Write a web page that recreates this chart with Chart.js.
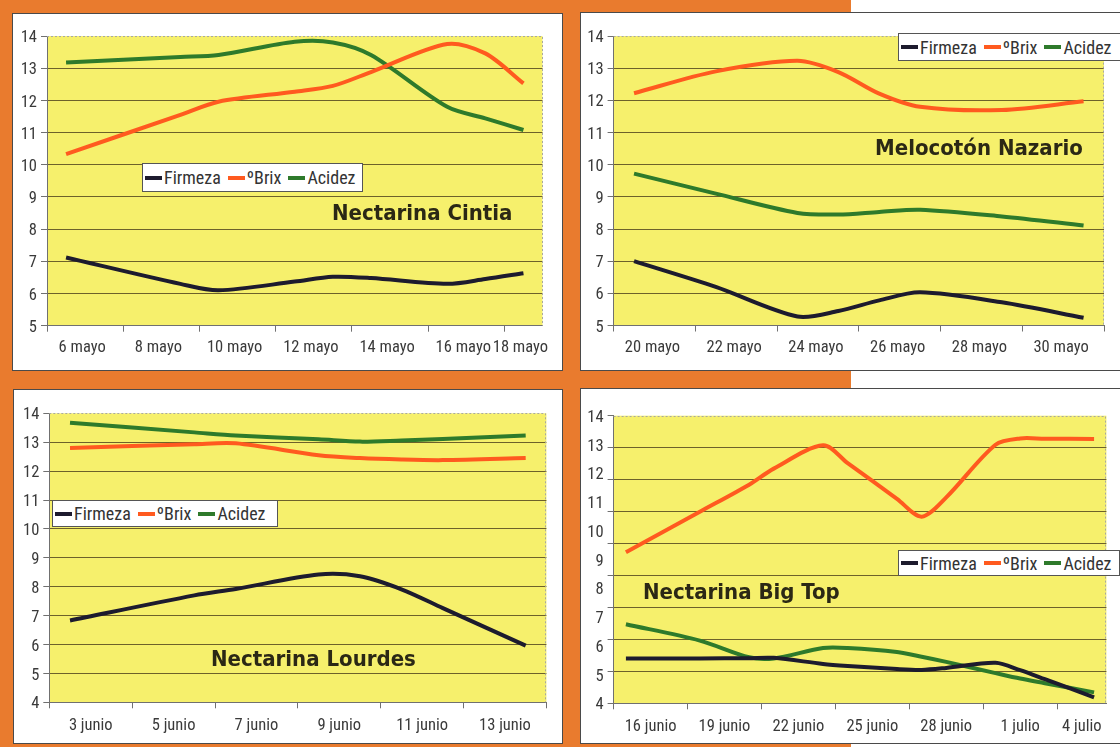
<!DOCTYPE html>
<html>
<head>
<meta charset="utf-8">
<title>Firmeza, ºBrix y Acidez</title>
<script src="https://cdn.jsdelivr.net/npm/chart.js@4.4.1/dist/chart.umd.min.js"></script>
<style>
  html, body { margin: 0; padding: 0; background: #fff; }
  #page { position: relative; width: 1120px; height: 747px; overflow: hidden; background: #fff; }
  #fondo { position: absolute; left: 0; top: 0; width: 851px; height: 747px; background: #E97B2E; }
  .panel { position: absolute; background: #fff; border: 1px solid #4a4a4a; box-sizing: border-box; }
  canvas { position: absolute; }
  .titulo {
    position: absolute; white-space: nowrap;
    font-family: 'DejaVu Sans Condensed', 'DejaVu Sans', sans-serif;
    font-stretch: condensed; font-weight: bold; font-size: 22px; line-height: 22px;
    color: #2b2815;
  }
  .leyenda {
    position: absolute; box-sizing: border-box; background: #fff;
    border: 1px solid #555; display: flex; align-items: center; padding-left: 2px;
    font-family: 'Roboto Condensed', 'DejaVu Sans Condensed', sans-serif;
    font-size: 18px; color: #333; white-space: nowrap;
  }
  .leyenda .item { display: flex; align-items: center; margin-right: 7px; }
  .leyenda .sw { display: inline-block; width: 17px; height: 4px; margin-right: 2px; }
</style>
</head>
<body>
<div id="page">
  <div id="fondo"></div>
</div>
<script>
// Series names and colours
const serieNombres = ['Firmeza', 'ºBrix', 'Acidez'];
const serieColores = ['#1d1b2e', '#ff5a1f', '#2e7a2b'];

// ---- Nectarina Cintia (days of May) ----
const cintiaDias    = [6, 9, 10, 12, 13, 14, 16, 17, 18];
const cintiaFirmeza = [7.12, 6.30, 6.10, 6.37, 6.52, 6.48, 6.30, 6.45, 6.63];
const cintiaBrix    = [10.33, 11.55, 11.96, 12.27, 12.45, 12.88, 13.75, 13.46, 12.53];
const cintiaAcidez  = [13.18, 13.35, 13.41, 13.82, 13.80, 13.41, 11.80, 11.44, 11.08];
const cintiaEtiquetas = ['6 mayo', '8 mayo', '10 mayo', '12 mayo', '14 mayo', '16 mayo', '18 mayo'];

// ---- Melocotón Nazario (days of May) ----
const nazarioDias    = [20, 22, 24, 25, 26, 27, 29, 31];
const nazarioFirmeza = [7.00, 6.20, 5.28, 5.45, 5.78, 6.03, 5.72, 5.24];
const nazarioBrix    = [12.22, 12.90, 13.23, 12.88, 12.21, 11.80, 11.70, 11.97];
const nazarioAcidez  = [9.72, 9.10, 8.50, 8.45, 8.53, 8.60, 8.39, 8.11];
const nazarioEtiquetas = ['20 mayo', '22 mayo', '24 mayo', '26 mayo', '28 mayo', '30 mayo'];

// ---- Nectarina Lourdes (days of June) ----
const lourdesDias    = [3, 6, 7, 9, 10, 11, 12, 14];
const lourdesFirmeza = [6.83, 7.70, 7.92, 8.42, 8.36, 7.91, 7.26, 5.96];
const lourdesBrix    = [12.80, 12.93, 12.96, 12.55, 12.45, 12.40, 12.38, 12.45];
const lourdesAcidez  = [13.67, 13.34, 13.23, 13.10, 13.02, 13.06, 13.11, 13.23];
const lourdesEtiquetas = ['3 junio', '5 junio', '7 junio', '9 junio', '11 junio', '13 junio'];

// ---- Nectarina Big Top (days counted from 1 June: 31 = 1 julio) ----
const bigTopDias    = [16, 19, 21, 22, 24, 25, 27, 28, 29, 31, 32, 33, 35];
const bigTopFirmeza = [5.56, 5.56, 5.57, 5.58, 5.37, 5.30, 5.19, 5.16, 5.23, 5.41, 5.15, 4.84, 4.21];
const bigTopBrix    = [9.25, 10.66, 11.60, 12.16, 12.97, 12.35, 11.11, 10.49, 11.16, 12.99, 13.21, 13.20, 13.19];
const bigTopAcidez  = [6.75, 6.18, 5.60, 5.56, 5.92, 5.92, 5.78, 5.62, 5.44, 5.05, 4.86, 4.70, 4.38];
const bigTopEtiquetas = ['16 junio', '19 junio', '22 junio', '25 junio', '28 junio', '1 julio', '4 julio'];

// Y-axis label range and gridline range
const ejeY = {
  cintia:  { min: 5, max: 14, gridMin: 5 },
  nazario: { min: 5, max: 14, gridMin: 5 },
  lourdes: { min: 4, max: 14, gridMin: 4 },
  bigTop:  { min: 4, max: 14, gridMin: 5 }
};

const FUENTE = "'Roboto Condensed', 'DejaVu Sans Condensed', sans-serif";
const COLOR_TEXTO = '#3a3a3a';
const COLOR_EJE = '#707070';
const COLOR_REJILLA = 'rgba(85,72,30,0.85)';
const FONDO_GRAFICO = '#F6F06C';

// Yellow plot background plus the dotted frame on top and right
const marcoGrafico = {
  id: 'marcoGrafico',
  beforeDraw(chart) {
    const { ctx, chartArea: a } = chart;
    ctx.save();
    ctx.fillStyle = FONDO_GRAFICO;
    ctx.fillRect(a.left, a.top, a.right - a.left, a.bottom - a.top);
    ctx.restore();
  },
  beforeDatasetsDraw(chart) {
    const { ctx, chartArea: a } = chart;
    ctx.save();
    ctx.strokeStyle = '#a8a8a0';
    ctx.lineWidth = 1;
    ctx.setLineDash([2, 2]);
    ctx.beginPath();
    ctx.moveTo(a.left, Math.round(a.top) + 0.5);
    ctx.lineTo(Math.round(a.right) - 0.5, Math.round(a.top) + 0.5);
    ctx.lineTo(Math.round(a.right) - 0.5, a.bottom);
    ctx.stroke();
    ctx.restore();
  }
};

const page = document.getElementById('page');

function addDiv(cls, css, html) {
  const d = document.createElement('div');
  d.className = cls;
  Object.assign(d.style, css);
  if (html !== undefined) d.innerHTML = html;
  page.appendChild(d);
  return d;
}

function panel(p) {
  // white framed panel
  addDiv('panel', { left: p.marco[0] + 'px', top: p.marco[1] + 'px', width: p.marco[2] + 'px', height: p.marco[3] + 'px' });

  const cx = p.marco[0] + 1, cy = p.marco[1] + 1;
  const cw = p.marco[2] - 2, ch = p.marco[3] - 2;
  const canvas = document.createElement('canvas');
  canvas.width = cw; canvas.height = ch;
  canvas.style.left = cx + 'px'; canvas.style.top = cy + 'px';
  canvas.style.width = cw + 'px'; canvas.style.height = ch + 'px';
  page.appendChild(canvas);

  const [aL, aT, aR, aB] = p.area;
  const dias = p.dias;
  const min = dias[0] - 0.5, max = dias[dias.length - 1] + 0.5;
  const limites = [];
  for (let v = min; v < max - 1e-6; v += p.paso) limites.push(v);
  const marcas = limites.slice();
  if (Math.abs(limites[limites.length - 1] + p.paso - max) < 1e-6) marcas.push(max);
  const bordes = limites.concat([max]);
  const posEtiquetas = limites.map((b, i) => (b + bordes[i + 1]) / 2);

  const series = [p.firmeza, p.brix, p.acidez];
  const chart = new Chart(canvas, {
    type: 'line',
    data: {
      datasets: series.map((vals, k) => ({
        label: serieNombres[k],
        data: dias.map((d, i) => ({ x: d, y: vals[i] })),
        borderColor: serieColores[k],
        backgroundColor: serieColores[k],
        borderWidth: 4,
        pointRadius: 0,
        tension: 0.3,
        fill: false,
        borderJoinStyle: 'round',
        xAxisID: 'x',
        yAxisID: 'y'
      }))
    },
    options: {
      responsive: false,
      animation: false,
      devicePixelRatio: 1,
      layout: { padding: { left: 0, top: aT - cy, right: cx + cw - aR, bottom: 0 } },
      plugins: { legend: { display: false }, tooltip: { enabled: false } },
      scales: {
        x: {
          type: 'linear', position: 'bottom', weight: 0, min: min, max: max,
          afterBuildTicks: s => { s.ticks = marcas.map(v => ({ value: v })); },
          afterFit: s => { s.height = 6; },
          grid: { display: true, drawOnChartArea: false, drawTicks: true, tickLength: 6, tickColor: COLOR_EJE, tickWidth: 1 },
          border: { display: true, color: COLOR_EJE, width: 1 },
          ticks: { display: false }
        },
        xl: {
          type: 'linear', position: 'bottom', weight: 1, min: min, max: max,
          afterBuildTicks: s => { s.ticks = posEtiquetas.map(v => ({ value: v })); },
          afterFit: s => { s.height = cy + ch - aB - 6; },
          grid: { display: false, drawTicks: false },
          border: { display: false },
          ticks: {
            autoSkip: false, maxRotation: 0, minRotation: 0, padding: p.padX, labelOffset: p.despX,
            color: COLOR_TEXTO, font: { family: FUENTE, size: 16.5 },
            callback: (v, i) => p.etiquetas[i]
          }
        },
        yg: {
          type: 'linear', position: 'left', weight: 0, min: p.ejeY.gridMin, max: p.ejeY.max,
          ticks: { display: false, stepSize: 1 },
          afterFit: s => { s.width = 6; },
          grid: {
            color: c => (c.tick && c.tick.value === p.ejeY.max) ? 'rgba(0,0,0,0)' : COLOR_REJILLA,
            lineWidth: 1, drawTicks: true, tickLength: 6, tickColor: COLOR_EJE, tickWidth: 1
          },
          border: { display: true, color: COLOR_EJE, width: 1 }
        },
        y: {
          type: 'linear', position: 'left', weight: 1, min: p.ejeY.min, max: p.ejeY.max,
          afterFit: s => { s.width = aL - cx - 6; },
          grid: { display: false, drawTicks: false },
          border: { display: false },
          ticks: { stepSize: 1, padding: 4, labelOffset: 2, color: COLOR_TEXTO, font: { family: FUENTE, size: 16.5 } }
        }
      }
    },
    plugins: [marcoGrafico]
  });

  // legend built from the chart's datasets
  const items = chart.data.datasets.map(ds =>
    '<span class="item"><span class="sw" style="background:' + ds.borderColor + '"></span>' + ds.label + '</span>'
  ).join('');
  addDiv('leyenda', { left: p.leyenda[0] + 'px', top: p.leyenda[1] + 'px', width: p.leyenda[2] + 'px', height: p.leyenda[3] + 'px' }, items);

  addDiv('titulo', { left: p.titulo[0] + 'px', top: p.titulo[1] + 'px' }, p.nombre);
}

panel({
  nombre: 'Nectarina Cintia',
  marco: [12, 13, 551, 358], area: [47, 36, 542.5, 325.7], padX: 6, despX: -3,
  dias: cintiaDias, paso: 2, etiquetas: cintiaEtiquetas,
  firmeza: cintiaFirmeza, brix: cintiaBrix, acidez: cintiaAcidez, ejeY: ejeY.cintia,
  leyenda: [142, 163, 221, 29], titulo: [332, 201.5]
});

panel({
  nombre: 'Melocotón Nazario',
  marco: [580, 12, 560, 359], area: [613.6, 36, 1104, 325.5], padX: 6, despX: -2,
  dias: nazarioDias, paso: 2, etiquetas: nazarioEtiquetas,
  firmeza: nazarioFirmeza, brix: nazarioBrix, acidez: nazarioAcidez, ejeY: ejeY.nazario,
  leyenda: [898, 33, 224, 28], titulo: [875, 136.5]
});

panel({
  nombre: 'Nectarina Lourdes',
  marco: [13, 389, 550, 355], area: [49.3, 413.3, 546.4, 702.3], padX: 8, despX: 0,
  dias: lourdesDias, paso: 2, etiquetas: lourdesEtiquetas,
  firmeza: lourdesFirmeza, brix: lourdesBrix, acidez: lourdesAcidez, ejeY: ejeY.lourdes,
  leyenda: [52, 500, 226, 27], titulo: [211, 648]
});

panel({
  nombre: 'Nectarina Big Top',
  marco: [580, 388, 560, 356], area: [613.6, 415.7, 1106.4, 703.3], padX: 8, despX: 0,
  dias: bigTopDias, paso: 3, etiquetas: bigTopEtiquetas,
  firmeza: bigTopFirmeza, brix: bigTopBrix, acidez: bigTopAcidez, ejeY: ejeY.bigTop,
  leyenda: [898, 550, 222, 26], titulo: [643, 580.5]
});
</script>
</body>
</html>
